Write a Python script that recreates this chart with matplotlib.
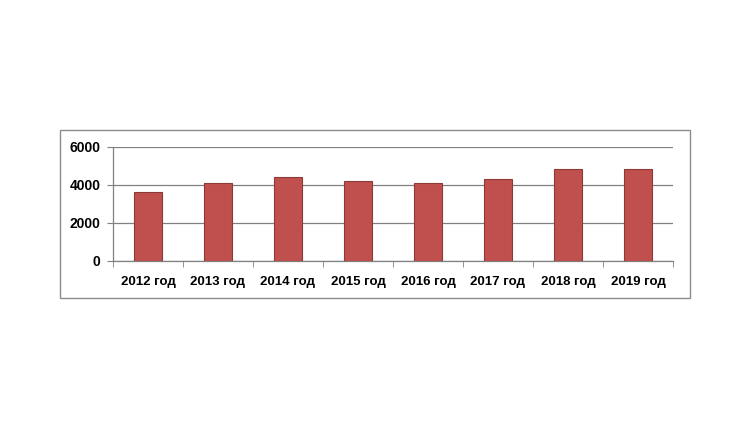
import matplotlib
matplotlib.use("Agg")
import matplotlib.pyplot as plt
from matplotlib.patches import Rectangle

categories = ["2012 год", "2013 год", "2014 год", "2015 год", "2016 год", "2017 год", "2018 год", "2019 год"]
values = [3630, 4120, 4420, 4230, 4120, 4300, 4840, 4840]
yticks = [0, 2000, 4000, 6000]

plt.rcParams['font.family'] = ['Liberation Sans', 'DejaVu Sans']

fig = plt.figure(figsize=(7.35, 4.41), dpi=100)
fig.patch.set_facecolor("white")

frame = Rectangle((0.0816, 0.3243), 0.9388 - 0.0816, 0.7052 - 0.3243,
                  transform=fig.transFigure, fill=False, edgecolor="#8c8c8c", linewidth=1.0)
fig.patches.append(frame)

ax = fig.add_axes([0.1537, 0.4082, 0.9156 - 0.1537, 0.6667 - 0.4082])
x = list(range(len(categories)))
ax.bar(x, values, width=0.39, color="#C0504D", edgecolor="#8B3A38", linewidth=0.8, zorder=3)
ax.set_xlim(-0.5, len(categories) - 0.5)
ax.set_ylim(0, 6000)
ax.set_yticks(yticks)
ax.set_yticklabels([str(v) for v in yticks], fontsize=10, fontweight="bold")
ax.set_xticks(x)
ax.set_xticklabels(categories, fontsize=9.5, fontweight="bold")
ax.set_xticks([i - 0.5 for i in range(len(categories) + 1)], minor=True)
ax.tick_params(axis="x", which="major", length=0, pad=11)
ax.tick_params(axis="x", which="minor", length=4, color="#808080", direction="out")
ax.tick_params(axis="y", length=4, color="#808080", pad=5)
ax.yaxis.grid(True, color="#808080", linewidth=0.9, zorder=0)
for s in ["top", "right"]:
    ax.spines[s].set_visible(False)
for s in ["left", "bottom"]:
    ax.spines[s].set_color("#808080")
    ax.spines[s].set_linewidth(0.9)

fig.savefig("out.png", dpi=100, facecolor="white")
